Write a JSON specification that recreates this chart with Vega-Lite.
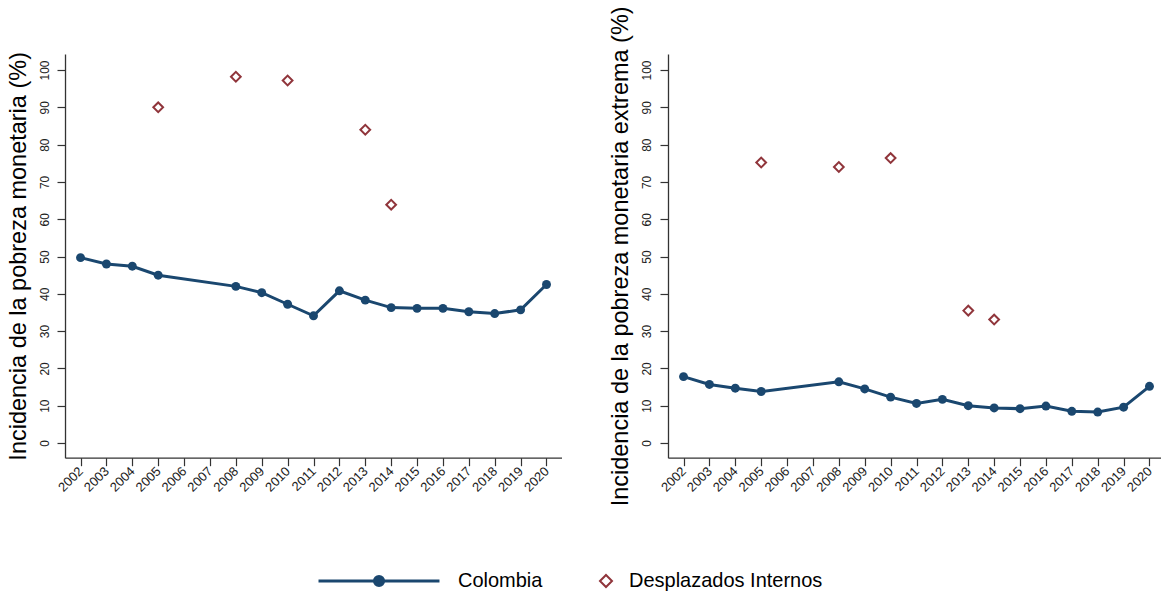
{
  "$schema": "https://vega.github.io/schema/vega-lite/v6.json",
  "background": "white",
  "padding": {"left": 5, "top": 5, "right": 0, "bottom": 0},
  "bounds": "flush",
  "spacing": 106,
  "datasets": {
    "pobreza": [
      {"year": 2002, "serie": "Colombia", "value": 49.7},
      {"year": 2003, "serie": "Colombia", "value": 48.0},
      {"year": 2004, "serie": "Colombia", "value": 47.4},
      {"year": 2005, "serie": "Colombia", "value": 45.0},
      {"year": 2008, "serie": "Colombia", "value": 42.0},
      {"year": 2009, "serie": "Colombia", "value": 40.3},
      {"year": 2010, "serie": "Colombia", "value": 37.2},
      {"year": 2011, "serie": "Colombia", "value": 34.1},
      {"year": 2012, "serie": "Colombia", "value": 40.8},
      {"year": 2013, "serie": "Colombia", "value": 38.3},
      {"year": 2014, "serie": "Colombia", "value": 36.3},
      {"year": 2015, "serie": "Colombia", "value": 36.1},
      {"year": 2016, "serie": "Colombia", "value": 36.1},
      {"year": 2017, "serie": "Colombia", "value": 35.2},
      {"year": 2018, "serie": "Colombia", "value": 34.7},
      {"year": 2019, "serie": "Colombia", "value": 35.7},
      {"year": 2020, "serie": "Colombia", "value": 42.5},
      {"year": 2005, "serie": "Desplazados Internos", "value": 90.0},
      {"year": 2008, "serie": "Desplazados Internos", "value": 98.2},
      {"year": 2010, "serie": "Desplazados Internos", "value": 97.2},
      {"year": 2013, "serie": "Desplazados Internos", "value": 84.0},
      {"year": 2014, "serie": "Desplazados Internos", "value": 63.9}
    ],
    "extrema": [
      {"year": 2002, "serie": "Colombia", "value": 17.8},
      {"year": 2003, "serie": "Colombia", "value": 15.7},
      {"year": 2004, "serie": "Colombia", "value": 14.7},
      {"year": 2005, "serie": "Colombia", "value": 13.8},
      {"year": 2008, "serie": "Colombia", "value": 16.4},
      {"year": 2009, "serie": "Colombia", "value": 14.5},
      {"year": 2010, "serie": "Colombia", "value": 12.3},
      {"year": 2011, "serie": "Colombia", "value": 10.6},
      {"year": 2012, "serie": "Colombia", "value": 11.7},
      {"year": 2013, "serie": "Colombia", "value": 10.0},
      {"year": 2014, "serie": "Colombia", "value": 9.4},
      {"year": 2015, "serie": "Colombia", "value": 9.2},
      {"year": 2016, "serie": "Colombia", "value": 9.9},
      {"year": 2017, "serie": "Colombia", "value": 8.5},
      {"year": 2018, "serie": "Colombia", "value": 8.3},
      {"year": 2019, "serie": "Colombia", "value": 9.6},
      {"year": 2020, "serie": "Colombia", "value": 15.2},
      {"year": 2005, "serie": "Desplazados Internos", "value": 75.2},
      {"year": 2008, "serie": "Desplazados Internos", "value": 74.0},
      {"year": 2010, "serie": "Desplazados Internos", "value": 76.4},
      {"year": 2013, "serie": "Desplazados Internos", "value": 35.5},
      {"year": 2014, "serie": "Desplazados Internos", "value": 33.1}
    ]
  },
  "hconcat": [
    {
      "width": 496.5,
      "height": 403.7,
      "data": {"name": "pobreza"},
      "encoding": {
        "x": {"field": "year", "type": "quantitative", "scale": {"domain": [2001.4, 2020.58], "nice": false, "zero": false},
          "axis": {"values": [2002,2003,2004,2005,2006,2007,2008,2009,2010,2011,2012,2013,2014,2015,2016,2017,2018,2019,2020], "format": "d", "title": null, "labelOverlap": false, "labelFlush": false}},
        "y": {"field": "value", "type": "quantitative", "scale": {"domain": [-3.94, 104.3], "nice": false, "zero": false},
          "axis": {"values": [0,10,20,30,40,50,60,70,80,90,100], "title": "Incidencia de la pobreza monetaria (%)", "labelOverlap": false, "labelFlush": false}}
      },
      "layer": [
        {
          "transform": [{"filter": "datum.serie === 'Colombia'"}],
          "mark": {"type": "line", "color": "#1a476f", "strokeWidth": 3}
        },
        {
          "transform": [{"filter": "datum.serie === 'Colombia'"}],
          "mark": {"type": "point", "shape": "circle", "filled": true, "color": "#1a476f", "size": 80, "opacity": 1}
        },
        {
          "transform": [{"filter": "datum.serie === 'Desplazados Internos'"}],
          "mark": {"type": "point", "strokeWidth": 2, "opacity": 1, "size": 95},
          "encoding": {
            "color": {"field": "serie", "type": "nominal", "scale": {"domain": ["Colombia", "Desplazados Internos"], "range": ["#1a476f", "#90353b"]}, "legend": {"title": null}},
            "fill": {"field": "serie", "type": "nominal", "scale": {"domain": ["Colombia", "Desplazados Internos"], "range": ["#1a476f", "transparent"]}, "legend": {"title": null}},
            "shape": {"field": "serie", "type": "nominal", "scale": {"domain": ["Colombia", "Desplazados Internos"], "range": ["M-19.25,-0.1H0.58V0.1H-19.25Z M-8.48,0A0.85,0.85,0,1,1,-10.18,0A0.85,0.85,0,1,1,-8.48,0Z", "diamond"]}, "legend": {"title": null}}
          }
        }
      ]
    },
    {
      "width": 496.5,
      "height": 403.7,
      "data": {"name": "extrema"},
      "encoding": {
        "x": {"field": "year", "type": "quantitative", "scale": {"domain": [2001.4, 2020.58], "nice": false, "zero": false},
          "axis": {"values": [2002,2003,2004,2005,2006,2007,2008,2009,2010,2011,2012,2013,2014,2015,2016,2017,2018,2019,2020], "format": "d", "title": null, "labelOverlap": false, "labelFlush": false}},
        "y": {"field": "value", "type": "quantitative", "scale": {"domain": [-3.94, 104.3], "nice": false, "zero": false},
          "axis": {"values": [0,10,20,30,40,50,60,70,80,90,100], "title": "Incidencia de la pobreza monetaria extrema (%)", "labelOverlap": false, "labelFlush": false}}
      },
      "layer": [
        {
          "transform": [{"filter": "datum.serie === 'Colombia'"}],
          "mark": {"type": "line", "color": "#1a476f", "strokeWidth": 3}
        },
        {
          "transform": [{"filter": "datum.serie === 'Colombia'"}],
          "mark": {"type": "point", "shape": "circle", "filled": true, "color": "#1a476f", "size": 80, "opacity": 1}
        },
        {
          "transform": [{"filter": "datum.serie === 'Desplazados Internos'"}],
          "mark": {"type": "point", "strokeWidth": 2, "opacity": 1, "size": 95},
          "encoding": {
            "color": {"field": "serie", "type": "nominal", "scale": {"domain": ["Colombia", "Desplazados Internos"], "range": ["#1a476f", "#90353b"]}, "legend": {"title": null}},
            "fill": {"field": "serie", "type": "nominal", "scale": {"domain": ["Colombia", "Desplazados Internos"], "range": ["#1a476f", "transparent"]}, "legend": {"title": null}},
            "shape": {"field": "serie", "type": "nominal", "scale": {"domain": ["Colombia", "Desplazados Internos"], "range": ["M-19.25,-0.1H0.58V0.1H-19.25Z M-8.48,0A0.85,0.85,0,1,1,-10.18,0A0.85,0.85,0,1,1,-8.48,0Z", "diamond"]}, "legend": {"title": null}}
          }
        }
      ]
    }
  ],
  "config": {
    "view": {"stroke": null},
    "font": "Liberation Sans",
    "legend": {
      "orient": "none", "direction": "horizontal", "legendX": 360, "legendY": 517, "padding": 0,
      "labelFont": "Liberation Sans", "labelFontSize": 20, "labelColor": "#000", "labelOffset": 13, "labelLimit": 400,
      "symbolSize": 144, "symbolStrokeWidth": 2, "symbolOpacity": 1, "columnPadding": 53
    },
    "axis": {
      "grid": false,
      "domainColor": "#333",
      "domainWidth": 1.3,
      "tickColor": "#333",
      "tickSize": 8,
      "tickWidth": 1.2,
      "labelFont": "Liberation Sans",
      "labelFontSize": 12,
      "labelColor": "#222",
      "titleFont": "Liberation Sans",
      "titleFontWeight": "normal",
      "titleColor": "#000"
    },
    "axisX": {"labelAngle": -45, "labelAlign": "right", "labelBaseline": "middle", "labelPadding": 3, "labelFontSize": 13},
    "axisY": {"labelAngle": -90, "labelAlign": "center", "labelBaseline": "bottom", "labelPadding": 6, "titleFontSize": 23.5, "titlePadding": 8}
  }
}
